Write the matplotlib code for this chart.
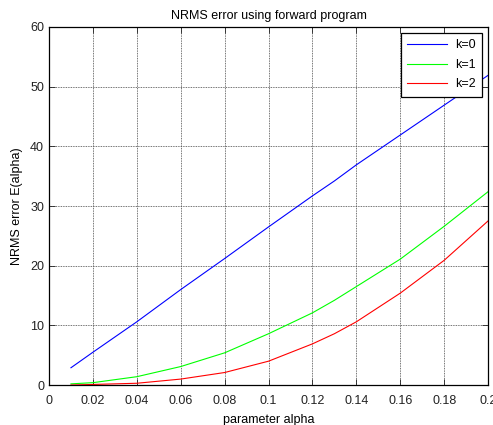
import numpy as np
import matplotlib.pyplot as plt

plt.rcParams.update({'font.family': ['Liberation Sans', 'DejaVu Sans'], 'font.size': 9})

# NRMS error vs alpha for each derivative order k
alpha = [0.01, 0.02, 0.04, 0.06, 0.08, 0.10, 0.12, 0.13, 0.14, 0.16, 0.18, 0.20]
err_k0 = [2.9, 5.5, 10.6, 16.0, 21.2, 26.5, 31.7, 34.2, 36.9, 41.9, 46.9, 51.9]
err_k1 = [0.2, 0.4, 1.4, 3.1, 5.4, 8.6, 12.1, 14.2, 16.5, 21.1, 26.6, 32.4]
err_k2 = [0.0, 0.1, 0.3, 1.0, 2.1, 4.0, 6.9, 8.6, 10.6, 15.4, 20.9, 27.5]

fig = plt.figure(figsize=(4.93, 4.25), dpi=100)
ax = fig.add_axes([0.0994, 0.094, 0.8906, 0.8425])

ax.plot(alpha, err_k0, color='#0000ff', lw=0.8, label='k=0')
ax.plot(alpha, err_k1, color='#00ff00', lw=0.8, label='k=1')
ax.plot(alpha, err_k2, color='#ff0000', lw=0.8, label='k=2')

ax.set_xlim(0, 0.2)
ax.set_ylim(0, 60)
ax.set_xticks(np.arange(0, 0.201, 0.02))
ax.set_xticklabels(['0', '0.02', '0.04', '0.06', '0.08', '0.1', '0.12',
                    '0.14', '0.16', '0.18', '0.2'])
ax.set_yticks(range(0, 61, 10))
ax.tick_params(direction='in', top=True, right=True, length=4, width=0.6,
               colors='#222222')
ax.tick_params(axis='x', pad=7)
ax.grid(True, color='#444444', linestyle=(0, (1, 1)), linewidth=0.6)
for s in ax.spines.values():
    s.set_linewidth(0.9)

ax.set_title('NRMS error using forward program', fontsize=9)
ax.set_xlabel('parameter alpha', labelpad=5)
ax.set_ylabel('NRMS error E(alpha)', labelpad=5)

leg = ax.legend(loc='upper right', fancybox=False, framealpha=1,
                edgecolor='black', handlelength=3.2, borderpad=0.5,
                labelspacing=0.6, handletextpad=0.6, borderaxespad=0.5)
leg.get_frame().set_linewidth(0.9)

fig.savefig('out.png', dpi=100)
